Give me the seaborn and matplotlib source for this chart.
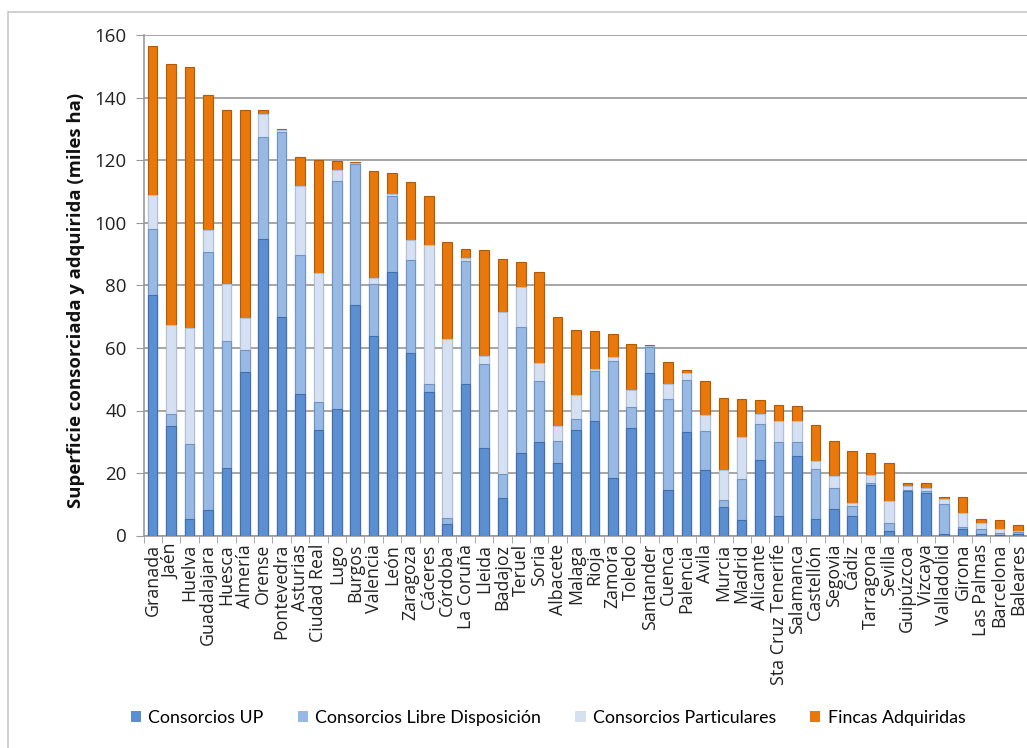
import numpy as np
import pandas as pd
import seaborn as sns
import matplotlib
matplotlib.use("Agg")
import matplotlib.pyplot as plt
from matplotlib.patches import Rectangle, Patch

# Superficie por provincia (miles de ha)
provincias = [
    "Granada", "Jaén", "Huelva", "Guadalajara", "Huesca", "Almería", "Orense",
    "Pontevedra", "Asturias", "Ciudad Real", "Lugo", "Burgos", "Valencia", "León",
    "Zaragoza", "Cáceres", "Córdoba", "La Coruña", "Lleida", "Badajoz", "Teruel",
    "Soria", "Albacete", "Malaga", "Rioja", "Zamora", "Toledo", "Santander",
    "Cuenca", "Palencia", "Avila", "Murcia", "Madrid", "Alicante",
    "Sta Cruz Tenerife", "Salamanca", "Castellón", "Segovia", "Cádiz",
    "Tarragona", "Sevilla", "Guipúzcoa", "Vizcaya", "Valladolid", "Girona",
    "Las Palmas", "Barcelona", "Baleares",
]
consorcios_up = [
    77.0, 35.0, 5.3, 8.3, 21.7, 52.3, 94.9, 70.0, 45.3, 33.8, 40.5, 73.6, 63.7,
    84.2, 58.3, 45.9, 3.7, 48.5, 28.1, 12.1, 26.3, 29.9, 23.1, 33.8, 36.7, 18.3,
    34.3, 52.1, 14.7, 33.0, 21.1, 9.2, 4.9, 24.2, 6.3, 25.5, 5.3, 8.4, 6.3,
    16.2, 1.5, 14.3, 13.7, 0.4, 2.2, 0.4, 0.3, 0.6,
]
consorcios_libre = [
    21.0, 4.0, 24.0, 82.3, 40.4, 7.0, 32.5, 59.2, 44.3, 9.0, 72.8, 45.3, 16.7,
    24.4, 29.8, 2.5, 1.8, 39.3, 26.7, 7.5, 40.5, 19.4, 7.2, 3.4, 15.8, 37.5,
    6.8, 8.2, 29.0, 16.8, 12.3, 2.3, 13.2, 11.6, 23.6, 4.4, 15.9, 6.9, 3.0,
    0.5, 2.6, 0.3, 0.6, 9.6, 0.6, 1.8, 0.6, 0.4,
]
consorcios_particulares = [
    11.0, 28.5, 37.0, 7.0, 18.4, 10.4, 7.4, 0.5, 22.1, 41.3, 3.7, 0.4, 2.1,
    0.8, 6.4, 44.6, 57.4, 1.0, 2.7, 52.0, 12.8, 5.8, 4.8, 7.8, 0.7, 1.2, 5.6,
    0.3, 4.9, 2.1, 5.3, 9.4, 13.4, 3.0, 6.6, 6.8, 2.5, 3.9, 1.0, 2.7, 7.0,
    1.4, 0.8, 1.6, 4.3, 1.9, 1.1, 0.6,
]
fincas_adquiridas = [
    47.5, 83.5, 83.5, 43.3, 55.8, 66.6, 1.3, 0.4, 9.5, 36.0, 2.9, 0.3, 34.0,
    6.5, 18.6, 15.5, 31.1, 2.9, 33.8, 16.8, 7.8, 29.1, 34.9, 20.7, 12.3, 7.6,
    14.5, 0.4, 6.8, 1.1, 10.6, 23.2, 12.1, 4.5, 5.3, 4.6, 11.5, 11.1, 16.9,
    7.1, 12.1, 0.7, 1.6, 0.7, 5.1, 1.3, 3.1, 1.7,
]

series = ["Consorcios UP", "Consorcios Libre Disposición",
          "Consorcios Particulares", "Fincas Adquiridas"]
colores = ["#5B8FD2", "#97B9E4", "#D5E1F2", "#E8770C"]
bordes = ["#3F6FAE", "#6F95C6", "#AFC0D8", "#B35A06"]

df = pd.DataFrame({
    "provincia": provincias,
    series[0]: consorcios_up,
    series[1]: consorcios_libre,
    series[2]: consorcios_particulares,
    series[3]: fincas_adquiridas,
})
# acumulados para apilar: cada capa se dibuja encima de la anterior
acum = df[series].cumsum(axis=1)

W, H = 1027, 748
fig = plt.figure(figsize=(W / 100, H / 100), dpi=100)
fig.patch.set_facecolor("white")

# marco del área del gráfico
fig.patches.append(Rectangle((8 / W, -0.05), 1.2, (H - 12) / H + 0.05,
                             transform=fig.transFigure, fill=False,
                             edgecolor="#C8C8C8", linewidth=1.2, zorder=0))

ax = fig.add_axes([143.5 / W, (H - 535.5) / H, (W - 143.5) / W, 500 / H])
ax.set_facecolor("none")

for i in range(len(series) - 1, -1, -1):
    sns.barplot(x=df["provincia"], y=acum[series[i]], color=colores[i],
                width=0.52, saturation=1, edgecolor=bordes[i], linewidth=0.8,
                ax=ax, zorder=3)

ax.set_ylim(0, 160)
ax.set_xlim(-0.5, len(provincias) - 0.5)
ax.set_yticks(np.arange(0, 161, 20))
ax.yaxis.grid(True, color="#8E8E8E", linewidth=1.1, zorder=0)
ax.set_axisbelow(True)

for s in ["top", "right"]:
    ax.spines[s].set_visible(False)
for s in ["left", "bottom"]:
    ax.spines[s].set_color("#9A9A9A")
    ax.spines[s].set_linewidth(1.2)

ax.tick_params(axis="y", length=6, color="#9A9A9A", labelsize=13.5,
               labelcolor="#222222", pad=6)
ax.tick_params(axis="x", which="major", length=0, labelsize=12.8,
               labelcolor="#222222", pad=6)
ax.set_xticks(np.arange(len(provincias)))
ax.set_xticklabels(provincias, rotation=90, fontfamily="Open Sans")
for t in ax.get_yticklabels():
    t.set_fontfamily("Open Sans")
ax.set_xticks(np.arange(len(provincias) + 1) - 0.5, minor=True)
ax.tick_params(axis="x", which="minor", length=5, color="#9A9A9A")

ax.set_xlabel("")
ax.set_ylabel("Superficie consorciada y adquirida (miles ha)",
              fontsize=13.3, fontweight="bold", fontfamily="Open Sans",
              color="#111111")
ax.yaxis.set_label_coords(-0.066, 0.47)

handles = [Patch(facecolor=c, edgecolor="none") for c in colores]
fig.legend(handles, series, loc="center", ncol=4, frameon=False,
           bbox_to_anchor=(548 / W, (H - 718) / H),
           prop={"family": "Lato", "size": 12.8},
           handlelength=0.6, handleheight=0.6, handletextpad=0.4,
           columnspacing=1.9)

fig.savefig("out.png", dpi=100)
